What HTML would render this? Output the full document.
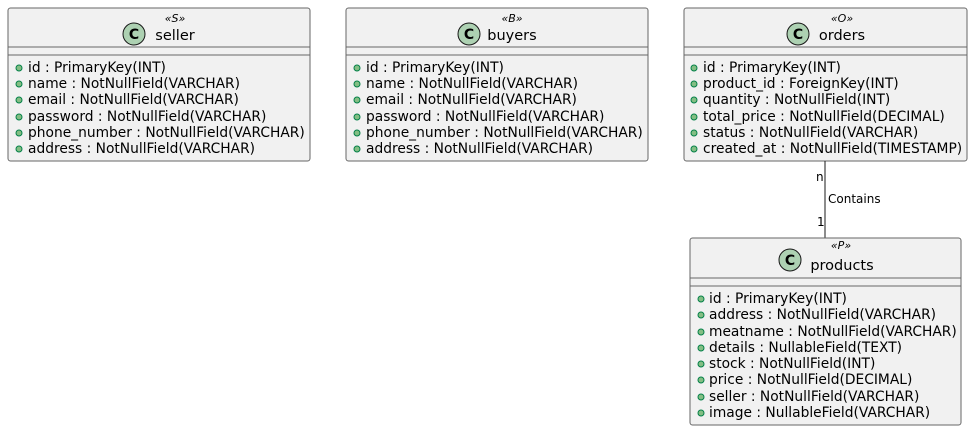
<!DOCTYPE html>
<html><head><meta charset="utf-8"><style>
html,body{margin:0;padding:0;background:#fff;}
svg{display:block;}
text{font-family:"DejaVu Sans","Liberation Sans",sans-serif;fill:#000;}
.r{font-size:13.8px;}
.n{font-size:14.5px;text-anchor:middle;}
.s{font-size:11px;font-style:italic;text-anchor:middle;}
.c{font-size:14px;font-weight:bold;text-anchor:middle;}
.box{fill:#F1F1F1;stroke:#666;stroke-width:1;}
.ln{stroke:#666;stroke-width:1;}
.d{fill:#84BE84;stroke:#038048;stroke-width:1;}
.ci{fill:#ADD1B2;stroke:#181818;stroke-width:1;}
.l{font-size:12px;}
</style></head><body>
<svg width="973" height="430" viewBox="0 0 973 430" xmlns="http://www.w3.org/2000/svg">
<!-- seller -->
<rect class="box" x="8" y="8" width="302" height="153" rx="2.5"/>
<line class="ln" x1="8" y1="47" x2="310" y2="47"/><line class="ln" x1="8" y1="55" x2="310" y2="55"/>
<circle class="ci" cx="134" cy="34" r="11"/><text class="c" x="134" y="39">C</text>
<text class="s" x="175" y="22">«S»</text><text class="n" x="175" y="40">seller</text>
<g><circle class="d" cx="19" cy="68" r="3"/><text class="r" x="28" y="72">id : PrimaryKey(INT)</text>
<circle class="d" cx="19" cy="84" r="3"/><text class="r" x="28" y="88">name : NotNullField(VARCHAR)</text>
<circle class="d" cx="19" cy="100" r="3"/><text class="r" x="28" y="104">email : NotNullField(VARCHAR)</text>
<circle class="d" cx="19" cy="117" r="3"/><text class="r" x="28" y="121">password : NotNullField(VARCHAR)</text>
<circle class="d" cx="19" cy="133" r="3"/><text class="r" x="28" y="137">phone_number : NotNullField(VARCHAR)</text>
<circle class="d" cx="19" cy="149" r="3"/><text class="r" x="28" y="153">address : NotNullField(VARCHAR)</text></g>
<!-- buyers -->
<rect class="box" x="346" y="8" width="302" height="153" rx="2.5"/>
<line class="ln" x1="346" y1="47" x2="648" y2="47"/><line class="ln" x1="346" y1="55" x2="648" y2="55"/>
<circle class="ci" cx="469" cy="34" r="11"/><text class="c" x="469" y="39">C</text>
<text class="s" x="512" y="22">«B»</text><text class="n" x="512" y="40">buyers</text>
<g><circle class="d" cx="357" cy="68" r="3"/><text class="r" x="366" y="72">id : PrimaryKey(INT)</text>
<circle class="d" cx="357" cy="84" r="3"/><text class="r" x="366" y="88">name : NotNullField(VARCHAR)</text>
<circle class="d" cx="357" cy="100" r="3"/><text class="r" x="366" y="104">email : NotNullField(VARCHAR)</text>
<circle class="d" cx="357" cy="117" r="3"/><text class="r" x="366" y="121">password : NotNullField(VARCHAR)</text>
<circle class="d" cx="357" cy="133" r="3"/><text class="r" x="366" y="137">phone_number : NotNullField(VARCHAR)</text>
<circle class="d" cx="357" cy="149" r="3"/><text class="r" x="366" y="153">address : NotNullField(VARCHAR)</text></g>
<!-- orders -->
<rect class="box" x="684" y="8" width="283" height="153" rx="2.5"/>
<line class="ln" x1="684" y1="47" x2="967" y2="47"/><line class="ln" x1="684" y1="55" x2="967" y2="55"/>
<circle class="ci" cx="798" cy="34" r="11"/><text class="c" x="798" y="39">C</text>
<text class="s" x="842" y="22">«O»</text><text class="n" x="842" y="40">orders</text>
<g><circle class="d" cx="694" cy="68" r="3"/><text class="r" x="703" y="72">id : PrimaryKey(INT)</text>
<circle class="d" cx="694" cy="84" r="3"/><text class="r" x="703" y="88">product_id : ForeignKey(INT)</text>
<circle class="d" cx="694" cy="100" r="3"/><text class="r" x="703" y="104">quantity : NotNullField(INT)</text>
<circle class="d" cx="694" cy="117" r="3"/><text class="r" x="703" y="121">total_price : NotNullField(DECIMAL)</text>
<circle class="d" cx="694" cy="133" r="3"/><text class="r" x="703" y="137">status : NotNullField(VARCHAR)</text>
<circle class="d" cx="694" cy="149" r="3"/><text class="r" x="703" y="153">created_at : NotNullField(TIMESTAMP)</text></g>
<!-- connector -->
<line x1="825" y1="161" x2="825" y2="238" stroke="#181818" stroke-width="1"/>
<text class="l" x="816" y="181">n</text>
<text class="l" x="828" y="203">Contains</text>
<text class="l" x="817" y="226">1</text>
<!-- products -->
<rect class="box" x="690" y="238" width="271" height="187" rx="2.5"/>
<line class="ln" x1="690" y1="278" x2="961" y2="278"/><line class="ln" x1="690" y1="286" x2="961" y2="286"/>
<circle class="ci" cx="790" cy="260" r="11"/><text class="c" x="790" y="265">C</text>
<text class="s" x="841" y="249">«P»</text><text class="n" x="842" y="270">products</text>
<g><circle class="d" cx="701" cy="299" r="3"/><text class="r" x="709" y="303">id : PrimaryKey(INT)</text>
<circle class="d" cx="701" cy="315" r="3"/><text class="r" x="709" y="319">address : NotNullField(VARCHAR)</text>
<circle class="d" cx="701" cy="332" r="3"/><text class="r" x="709" y="336">meatname : NotNullField(VARCHAR)</text>
<circle class="d" cx="701" cy="348" r="3"/><text class="r" x="709" y="352">details : NullableField(TEXT)</text>
<circle class="d" cx="701" cy="364" r="3"/><text class="r" x="709" y="368">stock : NotNullField(INT)</text>
<circle class="d" cx="701" cy="380" r="3"/><text class="r" x="709" y="384">price : NotNullField(DECIMAL)</text>
<circle class="d" cx="701" cy="397" r="3"/><text class="r" x="709" y="401">seller : NotNullField(VARCHAR)</text>
<circle class="d" cx="701" cy="413" r="3"/><text class="r" x="709" y="417">image : NullableField(VARCHAR)</text></g>
</svg>
</body></html>
